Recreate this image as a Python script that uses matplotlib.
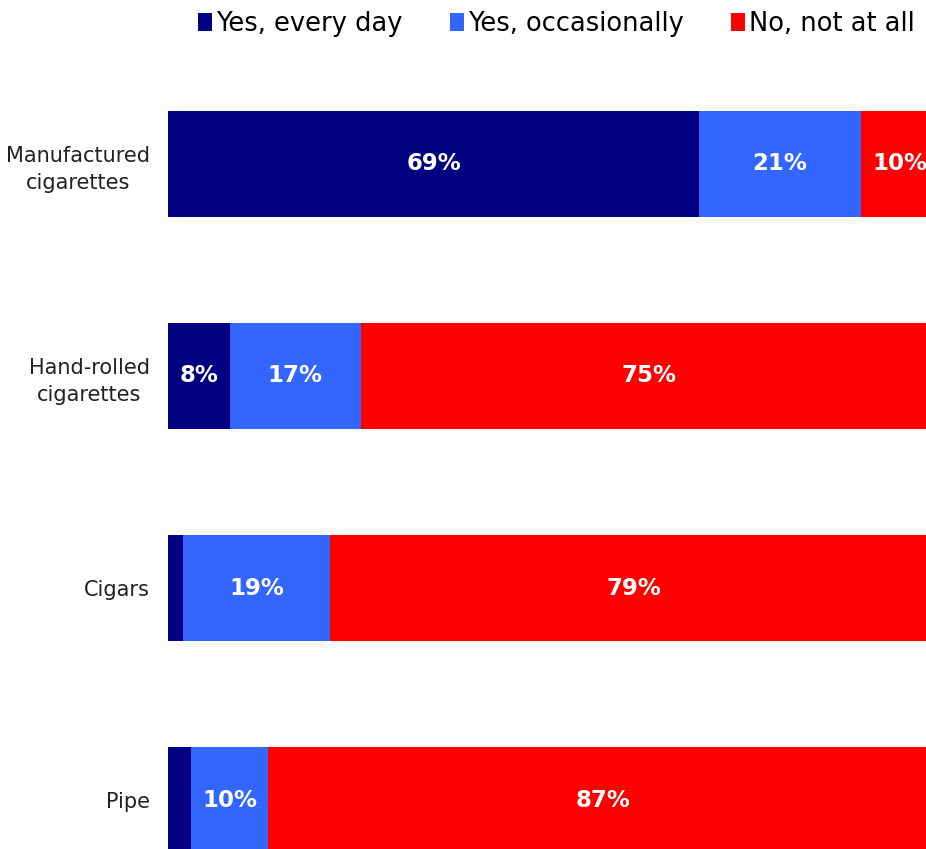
import matplotlib
matplotlib.use("Agg")
import matplotlib.pyplot as plt
import numpy as np

categories = ["Manufactured\ncigarettes", "Hand-rolled\ncigarettes", "Cigars", "Pipe"]
series_names = ["Yes, every day", "Yes, occasionally", "No, not at all"]
every_day = [69, 8, 2, 3]
occasionally = [21, 17, 19, 10]
not_at_all = [10, 75, 79, 87]
colors = ["#000080", "#3366FF", "#FF0000"]

W, H = 926, 849
fig = plt.figure(figsize=(W / 100, H / 100), dpi=100)
# axes spans x 168..938 px (clipped at right edge), y centers 163.5..800.5 px
ax = fig.add_axes([168 / W, (H - 906.5) / H, 770 / W, 849 / H])

y = np.arange(len(categories))
left = np.zeros(len(categories))
handles = []
for vals, name, col in zip([every_day, occasionally, not_at_all], series_names, colors):
    bars = ax.barh(y, vals, left=left, height=0.5, color=col, label=name)
    handles.append(bars)
    for yi, v, l in zip(y, vals, left):
        if v >= 5:
            ax.text(l + v / 2, yi, f"{v}%", ha="center", va="center",
                    color="white", fontsize=16.5, fontweight="bold")
    left += np.array(vals)

ax.set_xlim(0, 100)
ax.set_ylim(3.5, -0.5)
ax.set_yticks(y)
ax.set_yticklabels(categories, fontsize=15, color="#222222")
for lbl in ax.get_yticklabels():
    lbl.set_multialignment("center")
    lbl.set_linespacing(1.45)
ax.tick_params(axis="y", length=0, pad=13)
ax.set_xticks([])
for s in ax.spines.values():
    s.set_visible(False)

fig.legend(handles=handles, labels=series_names, loc="upper right",
           bbox_to_anchor=(925 / W, 1.0 - 1 / H), ncol=3, frameon=False,
           fontsize=18.5, handlelength=0.55, handleheight=0.7, handletextpad=0.15,
           columnspacing=1.85, borderaxespad=0)

fig.savefig("out.png", dpi=100)
